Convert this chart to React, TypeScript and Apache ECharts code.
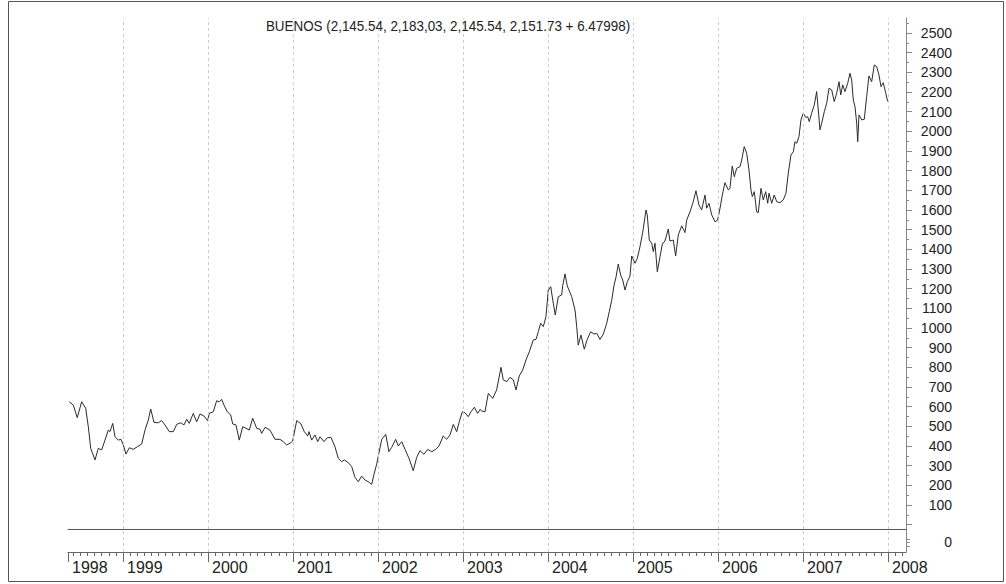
import React, { useEffect, useRef } from 'react';
import * as echarts from 'echarts';

const dates: number[] = [
  1998.368, 1998.415, 1998.462, 1998.514, 1998.561, 1998.592, 1998.620, 1998.671, 1998.709, 1998.749,
  1998.788, 1998.827, 1998.847, 1998.879, 1998.906, 1998.945, 1998.976, 1999.004, 1999.035, 1999.074,
  1999.121, 1999.168, 1999.220, 1999.259, 1999.298, 1999.326, 1999.365, 1999.415, 1999.455, 1999.494,
  1999.545, 1999.592, 1999.632, 1999.679, 1999.718, 1999.749, 1999.780, 1999.827, 1999.867, 1999.906,
  1999.953, 1999.996, 2000.015, 2000.062, 2000.102, 2000.132, 2000.161, 2000.188, 2000.227, 2000.267,
  2000.291, 2000.329, 2000.368, 2000.408, 2000.447, 2000.486, 2000.526, 2000.573, 2000.612, 2000.632,
  2000.671,
  2000.729, 2000.788, 2000.847, 2000.886, 2000.926, 2000.965, 2000.996,
  2001.044, 2001.094, 2001.133, 2001.173, 2001.188, 2001.220, 2001.259, 2001.291, 2001.318, 2001.365, 2001.404, 2001.447,
  2001.494, 2001.533, 2001.573, 2001.604, 2001.651, 2001.691, 2001.729, 2001.768, 2001.808, 2001.847, 2001.886, 2001.926,
  2001.953, 2001.985, 2002.012, 2002.044, 2002.091, 2002.129, 2002.161, 2002.208, 2002.239, 2002.279, 2002.318, 2002.365,
  2002.415, 2002.455, 2002.494, 2002.541, 2002.585, 2002.632, 2002.679, 2002.718, 2002.768, 2002.808, 2002.847, 2002.886,
  2002.926, 2002.956, 2002.992, 2003.024, 2003.062, 2003.094, 2003.133, 2003.173, 2003.200,
  2003.220, 2003.259, 2003.298, 2003.349, 2003.396, 2003.447, 2003.474, 2003.514, 2003.553, 2003.592,
  2003.624, 2003.662, 2003.702, 2003.741, 2003.780, 2003.827, 2003.859, 2003.886, 2003.914, 2003.945,
  2003.976, 2004.004, 2004.032, 2004.062, 2004.086, 2004.121, 2004.161, 2004.173, 2004.200, 2004.227,
  2004.279, 2004.318, 2004.338, 2004.356, 2004.388, 2004.427, 2004.462, 2004.502, 2004.541, 2004.573,
  2004.612, 2004.651, 2004.691, 2004.721, 2004.749, 2004.776, 2004.800, 2004.827, 2004.855, 2004.879,
  2004.906, 2004.933, 2004.965, 2004.985, 2005.024, 2005.051, 2005.082, 2005.114, 2005.153, 2005.168,
  2005.192, 2005.220, 2005.239, 2005.259, 2005.286, 2005.318, 2005.345, 2005.376, 2005.415, 2005.435,
  2005.474, 2005.502, 2005.533, 2005.573, 2005.612,
  2005.632, 2005.671, 2005.709, 2005.741, 2005.776, 2005.808, 2005.847, 2005.867, 2005.894, 2005.926,
  2005.965, 2005.996, 2006.024, 2006.051, 2006.082, 2006.121, 2006.141, 2006.168, 2006.192, 2006.220,
  2006.259, 2006.279, 2006.309, 2006.338, 2006.365, 2006.388, 2006.404, 2006.427, 2006.455, 2006.474,
  2006.506, 2006.533, 2006.561, 2006.585, 2006.600, 2006.632, 2006.662, 2006.691, 2006.729, 2006.768,
  2006.800, 2006.827, 2006.859, 2006.886, 2006.906, 2006.926, 2006.953, 2006.976, 2007.004, 2007.032,
  2007.055, 2007.074, 2007.102, 2007.133, 2007.161, 2007.180, 2007.200, 2007.220, 2007.251, 2007.279,
  2007.306, 2007.338, 2007.368, 2007.396, 2007.424, 2007.444, 2007.467, 2007.494, 2007.526, 2007.553,
  2007.573, 2007.592, 2007.612, 2007.632, 2007.644, 2007.659, 2007.691, 2007.721, 2007.749, 2007.776,
  2007.808, 2007.839, 2007.867, 2007.894, 2007.918, 2007.944, 2007.973, 2007.996,
];

const values: number[] = [
  625, 608, 544, 625, 592, 498, 388, 329, 388, 380,
  430, 481, 473, 515, 447, 430, 434, 405, 359, 391,
  383, 396, 410, 481, 532, 588, 520, 518, 529, 507,
  473, 473, 510, 518, 507, 536, 515, 566, 523, 563,
  552, 529, 566, 574, 630, 624, 637, 608, 574, 558,
  512, 507, 430, 498, 490, 481, 541, 490, 485, 464,
  495,
  481, 434, 434, 422, 405, 414, 425,
  529, 512, 473, 451, 473, 430, 456, 422, 447, 422, 442, 444,
  396, 337, 320, 329, 315, 295, 241, 218, 247, 227, 218, 205,
  256, 308, 366, 434, 459, 371, 393, 434, 400, 422, 383, 337,
  274, 342, 376, 358, 383, 371, 383, 400, 451, 434, 456, 510,
  473, 523, 574, 569, 549, 574, 597, 566, 586,
  578, 574, 668, 642, 685, 800, 736, 727, 749, 736,
  685, 756, 786, 837, 879, 939, 942, 981, 1024, 1007,
  1057, 1193, 1210, 1126, 1066, 1159, 1168, 1214, 1275, 1214,
  1159, 1091, 1007, 913, 964, 892, 942, 981, 969, 973,
  942, 969, 1024, 1083, 1139, 1214, 1258, 1325, 1269, 1244,
  1193, 1235, 1264, 1366, 1329, 1354, 1413, 1485, 1600, 1575,
  1447, 1431, 1388, 1431, 1286, 1362, 1427, 1442, 1503, 1442,
  1447, 1366, 1473, 1519, 1485,
  1549, 1591, 1642, 1698, 1625, 1600, 1676, 1609, 1634, 1575,
  1540, 1549, 1609, 1676, 1739, 1702, 1710, 1824, 1769, 1812,
  1820, 1854, 1922, 1888, 1803, 1702, 1668, 1693, 1591, 1586,
  1710, 1651, 1693, 1634, 1685, 1634, 1676, 1642, 1637, 1651,
  1685, 1787, 1880, 1896, 1947, 1939, 1973, 2058, 2092, 2071,
  2074, 2049, 2092, 2134, 2202, 2108, 2007, 2041, 2100, 2143,
  2219, 2210, 2151, 2193, 2252, 2185, 2236, 2202, 2244, 2295,
  2261, 2159, 2125, 2041, 1947, 2083, 2058, 2061, 2176, 2281,
  2252, 2337, 2329, 2286, 2227, 2247, 2196, 2152,
];

const xMin = 1998.353;
const xMax = 2008.212;

const yearTicks: number[] = [1998.353, 1999, 2000, 2001, 2002, 2003, 2004, 2005, 2006, 2007, 2008];
const yearLabels: string[] = ['1998', '1999', '2000', '2001', '2002', '2003', '2004', '2005', '2006', '2007', '2008'];

const priceLabels: number[] = [
  100, 200, 300, 400, 500, 600, 700, 800, 900, 1000, 1100, 1200, 1300,
  1400, 1500, 1600, 1700, 1800, 1900, 2000, 2100, 2200, 2300, 2400, 2500,
];
const priceMajorTicks: number[] = [0, ...priceLabels];
const priceMinorTicks: number[] = priceMajorTicks.map((v) => v + 50);

const titleText = 'BUENOS (2,145.54, 2,183,03, 2,145.54, 2,151.73 + 6.47998)';

const monthTicks: number[] = [];
for (let y = 1998; y <= 2008; y++) {
  for (let m = 0; m < 12; m++) {
    const t = y + m / 12;
    if (t > xMin + 0.02 && t < xMax) monthTicks.push(t);
  }
}

const FONT = '"Liberation Sans", Arial, Helvetica, sans-serif';

export default function App() {
  const ref = useRef<HTMLDivElement>(null);
  useEffect(() => {
    if (!ref.current) return;
    const chart = echarts.init(ref.current, undefined, { renderer: 'svg' });
    const points = dates.map((d, i) => [d, values[i]]);
    const gridLines = {
      symbol: ['none', 'none'],
      silent: true,
      label: { show: false },
      lineStyle: { color: '#cccccc', type: [3, 3], width: 1 },
      data: yearTicks.map((v) => ({ xAxis: v })),
    };
    chart.setOption({
      animation: false,
      backgroundColor: '#ffffff',
      textStyle: { fontFamily: FONT },
      grid: [
        { left: 68, top: 18, width: 838, height: 511 },
        { left: 68, top: 529, width: 838, height: 23 },
      ],
      xAxis: [
        {
          type: 'value', gridIndex: 0, min: xMin, max: xMax, position: 'bottom',
          axisLine: { show: true, onZero: false, lineStyle: { color: '#555', width: 1 } },
          axisTick: { show: false }, axisLabel: { show: false }, splitLine: { show: false },
        },
        {
          type: 'value', gridIndex: 1, min: xMin, max: xMax, position: 'bottom',
          axisLine: { show: true, onZero: false, lineStyle: { color: '#666', width: 1 } },
          axisTick: { show: true, customValues: yearTicks, length: 10, lineStyle: { color: '#666' } },
          axisLabel: {
            show: true, customValues: yearTicks, align: 'left', padding: [0, 0, 0, 4],
            margin: 7, fontSize: 16, color: '#222', fontFamily: FONT,
            formatter: (v: number) => {
              let best = 0;
              yearTicks.forEach((t, i) => { if (Math.abs(t - v) < Math.abs(yearTicks[best] - v)) best = i; });
              return yearLabels[best];
            },
          },
          splitLine: { show: false },
        },
        {
          type: 'value', gridIndex: 1, min: xMin, max: xMax, position: 'bottom',
          axisLine: { show: false, onZero: false },
          axisTick: { show: true, customValues: monthTicks, length: 4, lineStyle: { color: '#666' } },
          axisLabel: { show: false }, splitLine: { show: false },
        },
      ],
      yAxis: [
        {
          type: 'value', gridIndex: 0, position: 'right', min: -22, max: 2576,
          axisLine: { show: true, lineStyle: { color: '#888', width: 1 } },
          axisTick: { show: true, customValues: priceMajorTicks, length: 6, lineStyle: { color: '#888' } },
          axisLabel: {
            show: true, customValues: priceLabels, align: 'right', margin: 46,
            fontSize: 14, color: '#222', fontFamily: FONT,
            formatter: (v: number) => String(v),
          },
          splitLine: { show: false },
        },
        {
          type: 'value', gridIndex: 0, position: 'right', min: -22, max: 2576,
          axisLine: { show: false },
          axisTick: { show: true, customValues: priceMinorTicks, length: 3, lineStyle: { color: '#888' } },
          axisLabel: { show: false }, splitLine: { show: false },
        },
        {
          type: 'value', gridIndex: 1, position: 'right', min: -1, max: 1.3,
          axisLine: { show: true, lineStyle: { color: '#888', width: 1 } },
          axisTick: { show: true, customValues: [0.3, 0, -0.4], length: 4, lineStyle: { color: '#888' } },
          axisLabel: {
            show: true, customValues: [0], align: 'right', margin: 46,
            fontSize: 14, color: '#222', fontFamily: FONT,
            formatter: (v: number) => String(Math.round(v)),
          },
          splitLine: { show: false },
        },
      ],
      series: [
        {
          type: 'line', xAxisIndex: 0, yAxisIndex: 0, data: points,
          showSymbol: false, symbol: 'none', silent: true,
          lineStyle: { color: '#2b2b2b', width: 1 },
          markLine: gridLines,
          z: 3,
        },
        {
          type: 'line', xAxisIndex: 1, yAxisIndex: 2,
          data: [[xMin, 0], [xMax, 0]],
          showSymbol: false, symbol: 'none', silent: true,
          lineStyle: { opacity: 0 },
          markLine: gridLines,
        },
      ],
      graphic: [
        {
          type: 'rect', silent: true, z: 10,
          shape: { x: 8.5, y: 1.5, width: 995, height: 580 },
          style: { fill: 'none', stroke: '#555', lineWidth: 1 },
        },
        {
          type: 'text', silent: true, z: 10,
          x: 448, y: 26, scaleX: 0.895,
          style: {
            text: titleText, fill: '#222', align: 'center', verticalAlign: 'middle',
            font: '15px "Liberation Sans", Arial, sans-serif',
          },
        },
      ],
    });
    return () => chart.dispose();
  }, []);
  return (
    <div
      ref={ref}
      style={{ position: 'absolute', left: 0, top: 0, width: 1006, height: 584 }}
    />
  );
}
